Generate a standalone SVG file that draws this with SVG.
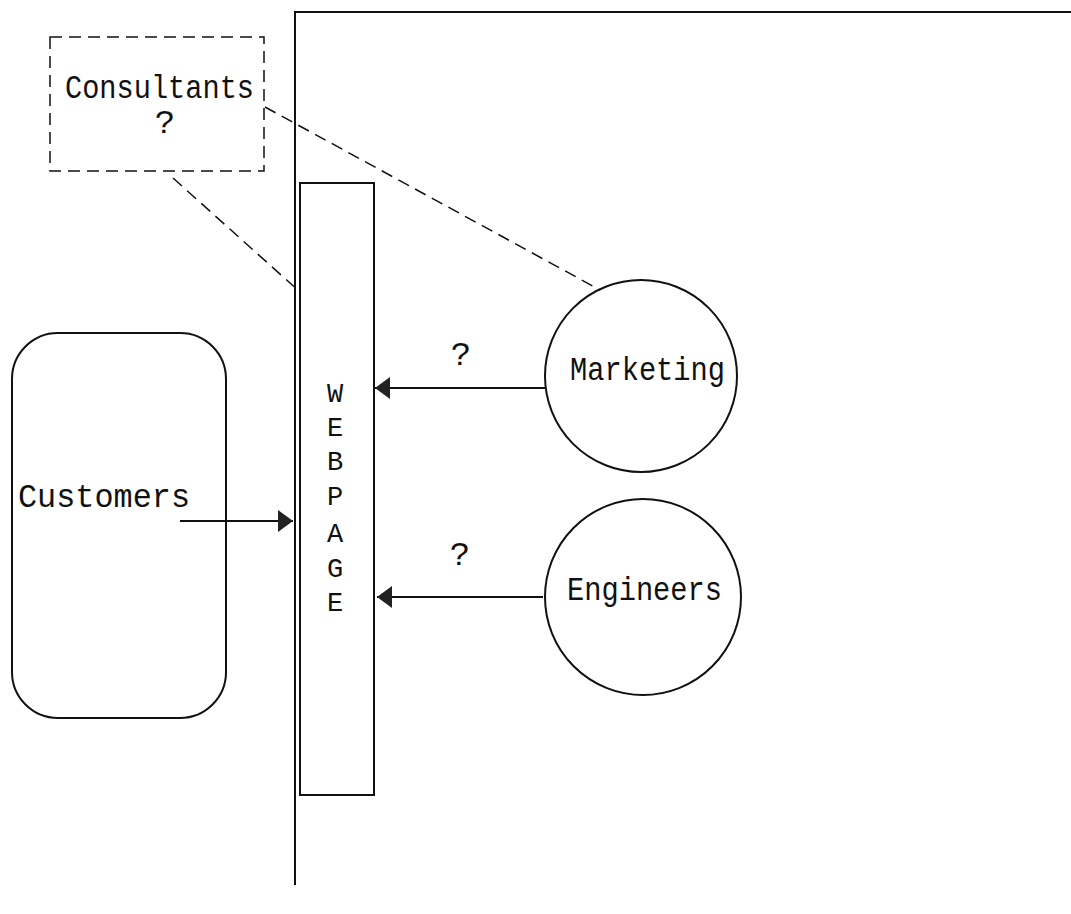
<svg xmlns="http://www.w3.org/2000/svg" width="1071" height="914" viewBox="0 0 1071 914">
<style>
.t{font-family:"Liberation Mono","DejaVu Sans Mono",monospace;font-size:34px;fill:#111}
.w{font-family:"Liberation Mono","DejaVu Sans Mono",monospace;font-size:27px;fill:#111}
.s{fill:none;stroke:#111;stroke-width:2}
.d{fill:none;stroke:#111;stroke-width:1.5;stroke-dasharray:12 7}
</style>
<defs>
<marker id="ah" markerWidth="16" markerHeight="22" refX="15" refY="11" orient="auto" markerUnits="userSpaceOnUse">
<path d="M0,0 L15,11 L0,22 Z" fill="#222"/>
</marker>
</defs>
<rect width="1071" height="914" fill="#fff"/>
<g id="boundary">
<path class="s" d="M295,885 L295,12 L1071,12" stroke-width="2.5"/>
</g>
<g id="consultants">
<rect class="d" x="50" y="37" width="214" height="134" stroke-width="2"/>
<text class="t" x="65" y="98" textLength="189" lengthAdjust="spacingAndGlyphs">Consultants</text>
<text class="t" x="165" y="133" text-anchor="middle">?</text>
</g>
<g id="webpage">
<rect class="s" x="300" y="183" width="74" height="612" stroke-width="2.5"/>
<text class="w" x="335" text-anchor="middle"><tspan x="335" y="402">W</tspan><tspan x="335" y="436">E</tspan><tspan x="335" y="470">B</tspan><tspan x="335" y="505">P</tspan><tspan x="335" y="542">A</tspan><tspan x="335" y="577">G</tspan><tspan x="335" y="611">E</tspan></text>
</g>
<g id="customers">
<rect class="s" x="12" y="333" width="214" height="385" rx="46" ry="46"/>
<text class="t" x="18" y="507" textLength="172" lengthAdjust="spacingAndGlyphs">Customers</text>
</g>
<g id="marketing">
<circle class="s" cx="641" cy="376" r="96"/>
<text class="t" x="570" y="380" textLength="155" lengthAdjust="spacingAndGlyphs">Marketing</text>
</g>
<g id="engineers">
<circle class="s" cx="643" cy="597" r="98"/>
<text class="t" x="567" y="600" textLength="155" lengthAdjust="spacingAndGlyphs">Engineers</text>
</g>
<g id="connectors">
<line class="d" x1="265" y1="107" x2="600" y2="290"/>
<line class="d" x1="173" y1="178" x2="300" y2="292"/>
<line class="s" x1="180" y1="521" x2="293" y2="521" marker-end="url(#ah)"/>
<line class="s" x1="545" y1="388" x2="375" y2="388" marker-end="url(#ah)"/>
<line class="s" x1="543" y1="597" x2="377" y2="597" marker-end="url(#ah)"/>
<text class="t" x="461" y="365" text-anchor="middle">?</text>
<text class="t" x="460" y="565" text-anchor="middle">?</text>
</g>
</svg>
